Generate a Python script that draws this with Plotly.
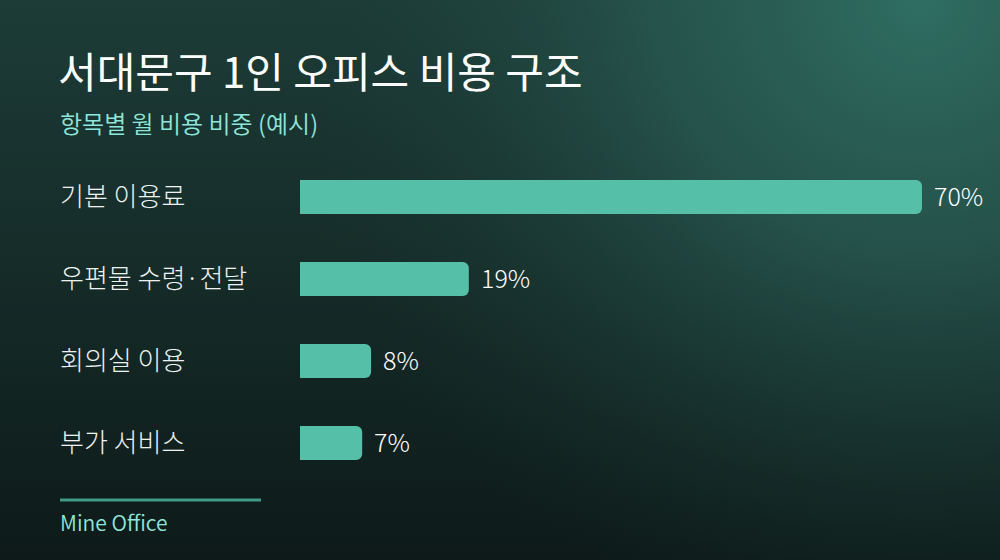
import plotly.graph_objects as go
import base64

# ---- data ----
categories = ["기본 이용료", "우편물 수령·전달", "회의실 이용", "부가 서비스"]
values = [70, 19, 8, 7]
value_labels = ["70%", "19%", "8%", "7%"]
title_text = "서대문구 1인 오피스 비용 구조"
subtitle_text = "항목별 월 비용 비중 (예시)"
source_text = "Mine Office"

FONT = "Noto Sans CJK KR"
BAR_COLOR = "#55bfa8"
ACCENT = "#8fe6da"

svg = """<svg xmlns='http://www.w3.org/2000/svg' width='1000' height='560' viewBox='0 0 1000 560'>
<defs>
<linearGradient id='lg' x1='0' y1='0' x2='0' y2='1'>
<stop offset='0' stop-color='#1d3c37'/>
<stop offset='1' stop-color='#0d1a19'/>
</linearGradient>
<radialGradient id='rg' cx='920' cy='0' r='650' gradientUnits='userSpaceOnUse'>
<stop offset='0' stop-color='#2f6d62' stop-opacity='1'/>
<stop offset='0.4' stop-color='#295c53' stop-opacity='0.75'/>
<stop offset='1' stop-color='#1a3531' stop-opacity='0'/>
</radialGradient>
</defs>
<rect width='1000' height='560' fill='url(#lg)'/>
<rect width='1000' height='560' fill='url(#rg)'/>
</svg>"""
bg_uri = "data:image/svg+xml;base64," + base64.b64encode(svg.encode()).decode()

fig = go.Figure()
fig.add_trace(go.Bar(
    x=values, y=categories, orientation="h",
    marker=dict(color=BAR_COLOR, cornerradius=6, line=dict(width=0)),
    width=0.415, hoverinfo="skip",
))

annotations = []
for c, v, lab in zip(categories, values, value_labels):
    annotations.append(dict(x=0.058, xref="paper", y=c, yref="y", text=c,
                            showarrow=False, xanchor="left", yanchor="middle", yshift=2,
                            font=dict(family=FONT, size=26, color="#eef3f1", weight=300)))
    annotations.append(dict(x=v, xref="x", y=c, yref="y", text=lab,
                            showarrow=False, xanchor="left", yanchor="middle", xshift=10, yshift=2,
                            font=dict(family=FONT, size=25, color="#ffffff", weight=300)))

annotations += [
    dict(x=0.056, xref="paper", y=1 - 69 / 560, yref="paper", text=title_text,
         showarrow=False, xanchor="left", yanchor="middle",
         font=dict(family=FONT, size=42, color="#ffffff", weight=400)),
    dict(x=0.058, xref="paper", y=1 - 122 / 560, yref="paper", text=subtitle_text,
         showarrow=False, xanchor="left", yanchor="middle",
         font=dict(family=FONT, size=24, color=ACCENT, weight=350)),
    dict(x=0.058, xref="paper", y=1 - 522 / 560, yref="paper", text=source_text,
         showarrow=False, xanchor="left", yanchor="middle",
         font=dict(family=FONT, size=21, color=ACCENT, weight=350)),
]

fig.update_layout(
    width=1000, height=560,
    margin=dict(l=0, r=0, t=0, b=0),
    paper_bgcolor="#112221", plot_bgcolor="rgba(0,0,0,0)",
    showlegend=False,
    images=[dict(source=bg_uri, xref="paper", yref="paper", x=0, y=1,
                 sizex=1, sizey=1, sizing="stretch", layer="below", xanchor="left", yanchor="top")],
    xaxis=dict(domain=[0.3, 1.0], range=[0, 78.78], visible=False, fixedrange=True),
    yaxis=dict(domain=[0, 1], range=[4.427, -2.402], visible=False, fixedrange=True,
               categoryorder="array", categoryarray=categories),
    annotations=annotations,
    shapes=[dict(type="line", xref="paper", yref="paper", x0=0.06, x1=0.261,
                 y0=1 - 500 / 560, y1=1 - 500 / 560,
                 line=dict(color="#3f9a86", width=3))],
)

fig.write_html("out.html", config={"displayModeBar": False},
               post_script="document.body.style.margin='0';document.body.style.overflow='hidden';")
